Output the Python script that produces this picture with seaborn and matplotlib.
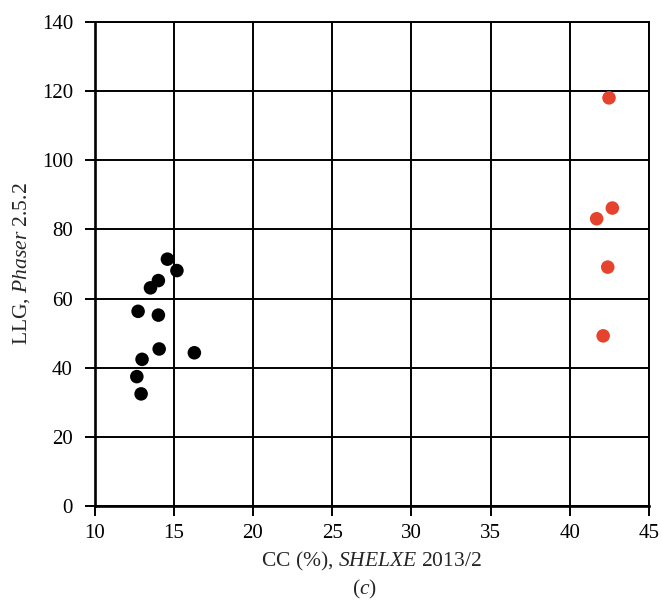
import matplotlib
matplotlib.use("Agg")
import matplotlib.pyplot as plt
import seaborn as sns
import pandas as pd

black_x = [14.6, 15.2, 14.03, 13.53, 12.75, 14.03, 14.08, 16.3, 13.0, 12.67, 12.94]
black_y = [71.4, 68.1, 65.2, 63.1, 56.3, 55.2, 45.4, 44.3, 42.4, 37.4, 32.4]
red_x = [42.47, 42.68, 41.69, 42.39, 42.1]
red_y = [118.1, 86.2, 83.1, 69.1, 49.2]
x_ticks = [10, 15, 20, 25, 30, 35, 40, 45]
y_ticks = [0, 20, 40, 60, 80, 100, 120, 140]

df = pd.DataFrame({
    "cc": black_x + red_x,
    "llg": black_y + red_y,
    "group": ["black"] * len(black_x) + ["red"] * len(red_x),
})

sns.set_style("white")
plt.rcParams["font.family"] = ["Liberation Serif", "DejaVu Serif"]
plt.rcParams["mathtext.fontset"] = "custom"
plt.rcParams["mathtext.it"] = "Liberation Serif:italic"
plt.rcParams["mathtext.rm"] = "Liberation Serif"

fig = plt.figure(figsize=(6.61, 6.0), dpi=100)
ax = fig.add_axes([0.143, 0.157, 0.839, 0.806])

sns.scatterplot(data=df, x="cc", y="llg", hue="group",
                palette={"black": "#000000", "red": "#E5432D"},
                s=95, edgecolor="none", legend=False, ax=ax, zorder=3)

ax.set_xlim(10, 45)
ax.set_ylim(0, 140)
ax.set_xticks(x_ticks)
ax.set_yticks(y_ticks)
ax.grid(True, color="black", linewidth=1.4)
ax.set_axisbelow(True)
for sp in ax.spines.values():
    sp.set_color("black")
    sp.set_linewidth(1.4)
ax.spines["left"].set_linewidth(1.9)
ax.spines["bottom"].set_linewidth(1.9)
ax.tick_params(axis="both", direction="out", length=7, width=1.4,
               color="black", labelsize=15, labelcolor="black",
               bottom=True, left=True)
ax.tick_params(axis="y", pad=8.5)
ax.tick_params(axis="x", pad=6)

ax.set_xlabel("CC (%), $\\it{SHELXE}$ 2013/2", fontsize=15.5, labelpad=5)
ax.set_ylabel("LLG, $\\it{Phaser}$ 2.5.2", fontsize=15.5, labelpad=7)
fig.text(0.552, 0.0167, "($\\it{c}$)", ha="center", va="center", fontsize=15.5)

fig.savefig("out.png", dpi=100)
